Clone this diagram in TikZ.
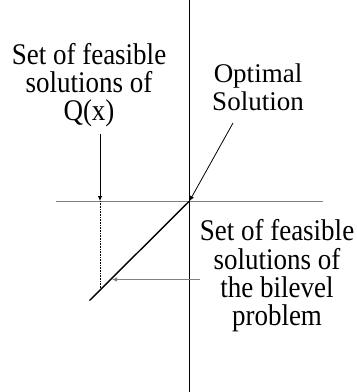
\documentclass[tikz,border=0pt]{standalone}
\usepackage{fontspec}
\setmainfont{Liberation Serif}
\newfontfamily\tallserif[FakeStretch=0.9]{Liberation Serif}
\usetikzlibrary{arrows.meta, positioning}

\begin{document}
\begin{tikzpicture}[x=1pt, y=-1pt,
    every node/.style={font=\fontsize{27}{28}\selectfont, align=center, inner sep=0pt},
    tall/.style={font=\tallserif\fontsize{30}{28.3}\selectfont},
    axis/.style={line width=0.9pt},
    pointer/.style={line width=0.8pt, -{Latex[length=5pt, width=4.5pt]}}]
  \useasboundingbox (0,0) rectangle (357,392);
  % axes
  \coordinate (top) at (189.5,0);
  \coordinate (bot) at (189.5,392);
  \coordinate (left) at (56,201);
  \coordinate (right) at (323,201);
  \coordinate (O) at (189.5,201);
  \draw[axis] (top) -- (bot);
  \draw[axis, gray] (left) -- (right);
  % feasible set of the bilevel problem
  \coordinate (low) at (89.5,300.5);
  \coordinate (foot) at (100,290);
  \coordinate (proj) at (100,201);
  \draw[line width=1.4pt] (O) -- (low);
  \draw[densely dotted, line width=0.6pt] (proj) -- (foot);
  % labels
  \node[tall] (qset) at (89,85) {Set of feasible\\solutions of\\Q(x)};
  \node (opt) at (258,87) {Optimal\\Solution};
  \node[tall] (bset) at (277,276) {Set of feasible\\solutions of\\the bilevel\\problem};
  % pointers
  \coordinate (qfrom) at (100,134);
  \coordinate (ofrom) at (233,123);
  \coordinate (bfrom) at (200,279.5);
  \coordinate (bto) at (112,279.5);
  \draw[pointer] (qfrom) -- (proj);
  \draw[pointer] (ofrom) -- (O);
  \draw[pointer, gray] (bfrom) -- (bto);
\end{tikzpicture}
\end{document}
